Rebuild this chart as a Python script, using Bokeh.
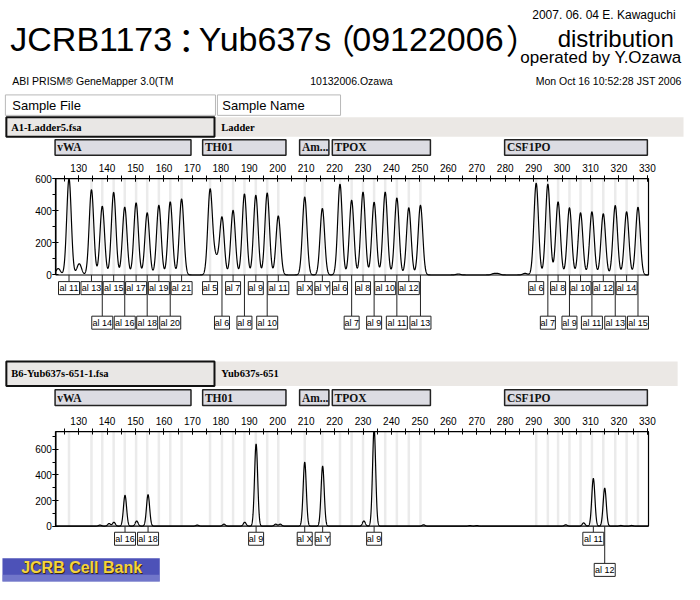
import numpy as np
from bokeh.plotting import figure
from bokeh.models import Range1d, LinearAxis, SingleIntervalTicker, ColumnDataSource
from bokeh.core.properties import value
from bokeh.embed import file_html
from bokeh.resources import INLINE

# ---------------- data ----------------
markers = ["vWA", "TH01", "Am...", "TPOX", "CSF1PO"]
marker_start = [121.7, 173.6, 207.7, 219.2, 279.8]
marker_end = [169.5, 202.9, 218.0, 253.7, 330.0]

# ladder (top panel)
vwa_alleles = ["11", "13", "14", "15", "16", "17", "18", "19", "20", "21"]
vwa_size = [126.6, 134.5, 138.3, 142.3, 146.2, 150.2, 154.1, 158.2, 162.2, 166.2]
vwa_height = [600, 530, 428, 514, 422, 449, 387, 434, 455, 473]
th01_alleles = ["5", "6", "7", "8", "9", "10", "11"]
th01_size = [176.2, 180.4, 184.3, 188.3, 192.3, 196.3, 200.2]
th01_height = [520, 357, 402, 504, 496, 510, 367]
amel_alleles = ["X", "Y"]
amel_size = [209.5, 215.7]
amel_height = [485, 414]
tpox_alleles = ["6", "7", "8", "9", "10", "11", "12", "13"]
tpox_size = [221.9, 226.0, 230.0, 233.9, 237.8, 241.9, 246.1, 250.2]
tpox_height = [565, 465, 516, 453, 516, 479, 418, 434]
csf_alleles = ["6", "7", "8", "9", "10", "11", "12", "13", "14", "15"]
csf_size = [290.9, 295.0, 298.6, 302.6, 306.5, 310.5, 314.5, 318.7, 322.7, 326.7]
csf_height = [571, 565, 455, 418, 387, 393, 381, 432, 393, 422]
ladder_minor_size = [122.8, 130.2, 177.6, 178.6, 263.5, 276.0, 277.5, 287.0]
ladder_minor_height = [40, 70, 70, 62, 6, 8, 8, 10]

# sample Yub637s-651 (bottom panel)
sample_alleles = ["16", "18", "9", "X", "Y", "9", "11", "12"]
sample_size = [146.3, 154.4, 192.4, 209.5, 215.8, 233.9, 311.0, 315.0]
sample_height = [240, 245, 641, 499, 468, 760, 372, 296]
sample_minor_size = [137.5, 140.7, 142.4, 150.4, 171.7, 181.1, 188.4, 199.3,
                     200.9, 230.3, 251.3, 267.6, 270.0, 301.3, 307.6, 320.7, 324.5]
sample_minor_height = [8, 20, 30, 40, 8, 15, 30, 15, 15, 40, 10, 4, 4, 10, 25, 5, 5]

# ---------------- layout constants ----------------
PX0, BP0, PXBP = 80.0, 130.0, 2.91        # 130 bp at x=80 px, 2.91 px per bp
XL, XR = 122.0, 330.4                       # plot frame limits (bp)
TOP_MAX, BOT_MAX = 600.0, 737.7
SANS = value("Liberation Sans")
SERIF = value("Liberation Serif")
W, H = 700.0, 600.0                         # layout coordinate space

def bp_at(px):
    return BP0 + (px - PX0) / PXBP

p = figure(width=684, height=584, x_range=Range1d(0, W), y_range=Range1d(H, 0),
           output_backend="svg", toolbar_location=None,
           x_axis_location=None, y_axis_location=None, min_border=0)
p.outline_line_color = None
p.grid.visible = False
p.background_fill_color = "white"
p.extra_x_ranges = {"bp": Range1d(bp_at(0), bp_at(W))}
# intensity ranges: top 0->y282, 600->y183 ; bottom 0->y540, 600->y461.1
ts = 600.0 / 99.0
bs = 600.0 / 78.9
p.extra_y_ranges = {"top": Range1d(-(H - 282) * ts, 600 + 183 * ts),
                    "bot": Range1d(-(H - 540) * bs, 540 * bs)}

# ---------------- header ----------------
def txt(x, y, t, size, font=SANS, align="left", baseline="alphabetic",
        style="normal", color="black"):
    p.text(x=[x], y=[y], text=[t], text_font=font, text_font_size=size, text_align=align,
           text_baseline=baseline, text_font_style=style, text_color=color)

txt(10, 40, "JCRB1173", "34px")
txt(190, 40, "：", "34px", font=value("Noto Sans CJK JP"), align="center")
txt(203, 40, "Yub637s", "34px")
txt(328, 40, "（", "34px", font=value("Noto Sans CJK JP"))
txt(360, 40, "09122006", "34px")
txt(517, 40, "）", "34px", font=value("Noto Sans CJK JP"))
txt(691, 15, "2007. 06. 04 E. Kawaguchi", "12px", align="right")
txt(689, 39, "distribution", "24px", align="right")
txt(697, 59, "operated by Y.Ozawa", "17px", align="right")

txt(12, 83, "ABI PRISM® GeneMapper 3.0(TM", "10.5px")
txt(317, 83, "10132006.Ozawa", "10.5px")
txt(697, 83, "Mon Oct 16 10:52:28 JST 2006", "10.5px", align="right")

p.quad(left=[5, 222], right=[220, 348], top=[97, 97], bottom=[118, 118],
       fill_color="white", line_color="#b8b8b8", line_width=1)
txt(12, 108, "Sample File", "13px", baseline="middle")
txt(227, 108, "Sample Name", "13px", baseline="middle")

def sample_row(y0, y1, x_end, fname, sname):
    p.quad(left=[5], right=[x_end], top=[y0], bottom=[y1], fill_color="#ebe8e5", line_color=None)
    p.quad(left=[6], right=[219], top=[y0], bottom=[y1], fill_color="#e9e7e5",
           line_color="#111111", line_width=2)
    txt(11, (y0 + y1) / 2, fname, "10.5px", font=SERIF, baseline="middle", style="bold")
    txt(226, (y0 + y1) / 2, sname, "10.5px", font=SERIF, baseline="middle", style="bold")

sample_row(120, 140, 699, "A1-Ladder5.fsa", "Ladder")
sample_row(371, 396, 693, "B6-Yub637s-651-1.fsa", "Yub637s-651")

# ---------------- marker bars ----------------
def marker_bar(y0, y1):
    p.quad(left=marker_start, right=marker_end, top=[y0] * len(markers), bottom=[y1] * len(markers),
           x_range_name="bp", fill_color="#dcdce3", line_color="#222222", line_width=1.5)
    p.text(x=[s + 0.8 for s in marker_start], y=[(y0 + y1) / 2] * len(markers), text=markers,
           x_range_name="bp", text_font=SERIF, text_font_style="bold", text_font_size="11.5px",
           text_baseline="middle", text_align="left", text_color="#111111")

marker_bar(143, 159)
marker_bar(400, 416)

# ---------------- traces ----------------
ladder_size = vwa_size + th01_size + amel_size + tpox_size + csf_size
ladder_height = vwa_height + th01_height + amel_height + tpox_height + csf_height
ladder_alleles = vwa_alleles + th01_alleles + amel_alleles + tpox_alleles + csf_alleles

grid = np.arange(XL, XR, 0.04)

def trace(sizes, heights, sigma):
    y = np.zeros_like(grid)
    for s, h in zip(sizes, heights):
        y += h * np.exp(-(grid - s) ** 2 / (2 * sigma ** 2))
    return y

top_y = trace(ladder_size, ladder_height, 0.8) + trace(ladder_minor_size, ladder_minor_height, 0.8)
bot_y = trace(sample_size, sample_height, 0.55) + trace(sample_minor_size, sample_minor_height, 0.5)
bot_y = np.minimum(bot_y, BOT_MAX)

for rname, ymax, yv in (("top", TOP_MAX, top_y), ("bot", BOT_MAX, bot_y)):
    n = len(ladder_size)
    p.segment(x0=ladder_size, x1=ladder_size, y0=[0] * n, y1=[ymax] * n,
              x_range_name="bp", y_range_name=rname, line_color="#ebebeb", line_width=2.5)
    p.quad(left=[XL], right=[XR], bottom=[0], top=[ymax], fill_color=None,
           line_color="black", line_width=1.2, x_range_name="bp", y_range_name=rname)
    p.line(x=grid, y=yv, x_range_name="bp", y_range_name=rname, line_color="black", line_width=1.2)

    ya = LinearAxis(x_range_name="bp", y_range_name=rname, fixed_location=XL, bounds=(0, ymax),
                    ticker=SingleIntervalTicker(interval=200, num_minor_ticks=2))
    xa = LinearAxis(x_range_name="bp", y_range_name=rname, fixed_location=ymax, bounds=(XL, XR),
                    ticker=SingleIntervalTicker(interval=10, num_minor_ticks=2))
    for ax in (ya, xa):
        ax.axis_line_color = "black"
        ax.axis_line_width = 1.2
        ax.major_tick_line_color = "black"
        ax.minor_tick_line_color = "black"
        ax.major_tick_in = 3
        ax.major_tick_out = 3
        ax.major_label_text_font = "Liberation Sans"
        ax.major_label_text_font_size = "10px"
        ax.major_label_text_color = "black"
    ya.minor_tick_in = 0
    ya.minor_tick_out = 3
    ya.major_label_standoff = 1
    xa.minor_tick_in = 3
    xa.minor_tick_out = 3
    xa.major_label_standoff = 4
    p.add_layout(ya, "left")
    p.add_layout(xa, "above")

# ---------------- allele labels ----------------
def allele_labels(sizes, names, base, row1, row2):
    xs, ys, ws, labs, tops = [], [], [], [], []
    last = None
    for s, n in sorted(zip(sizes, names), key=lambda t: t[0]):
        w = 9 + 6 * len(n)
        if last is not None and (s - last[0]) * PXBP < (w + last[1]) / 2 + 1:
            yc = row2
        else:
            yc = row1
            last = (s, w)
        xs.append(s); ys.append(yc); ws.append(w); labs.append("al " + n); tops.append(yc - 6.5)
    src = ColumnDataSource(dict(x=xs, y=ys, w=ws, lab=labs, top=tops, base=[base] * len(xs)))
    p.segment(x0="x", x1="x", y0="base", y1="top", source=src, x_range_name="bp",
              line_color="#222222", line_width=1)
    p.rect(x="x", y="y", width="w", height=13, width_units="screen", height_units="screen",
           source=src, x_range_name="bp", fill_color="white", line_color="#222222", line_width=1)
    p.text(x="x", y="y", text="lab", source=src, x_range_name="bp", text_align="center",
           text_baseline="middle", text_font=SANS, text_font_size="9px", text_color="black")

allele_labels(ladder_size, ladder_alleles, 282, 295.5, 331)
allele_labels(sample_size, sample_alleles, 540, 553, 585)

# ---------------- logo ----------------
p.quad(left=[2], right=[163], top=[573], bottom=[597], fill_color="#4d52b8", line_color=None)
p.quad(left=[2], right=[163], top=[590], bottom=[597], fill_color="#8a8fd6", line_color=None, fill_alpha=0.6)
txt(84, 584, "JCRB Cell Bank", "16px", align="center", baseline="middle", style="bold", color="#3a2a10")
txt(83, 583, "JCRB Cell Bank", "16px", align="center", baseline="middle", style="bold", color="#f4d43c")

open("out.html", "w").write(file_html(p, INLINE))
